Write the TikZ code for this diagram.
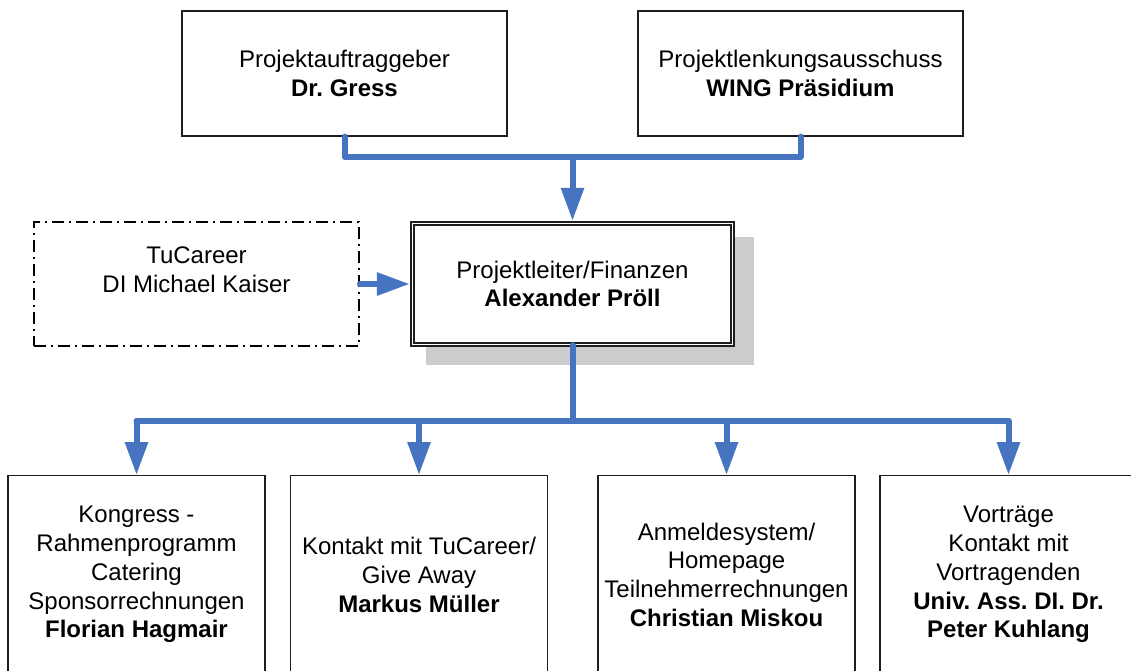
\documentclass[tikz,border=0pt]{standalone}
\usepackage{fontspec}
\setmainfont{Liberation Sans}
\usetikzlibrary{arrows.meta,backgrounds}
\definecolor{linkblue}{RGB}{70,116,193}
\definecolor{shadowgray}{RGB}{204,204,204}
\definecolor{edge}{RGB}{30,30,30}
\frenchspacing
\begin{document}
\begin{tikzpicture}[x=1pt,y=-1pt,
  box/.style={draw=edge, line width=1.3pt, fill=white, inner sep=0pt,
    align=center, font=\fontsize{24}{28.8}\selectfont\frenchspacing,
    minimum width=325pt, minimum height=125pt},
  leadbox/.style={box, double, double distance=1.8pt, line width=1.4pt,
    minimum width=320pt, minimum height=121pt},
  extbox/.style={box, draw=black, line width=1.8pt,
    dash pattern=on 12pt off 5pt on 2pt off 5pt, minimum height=124pt},
  teambox/.style={box, anchor=north, minimum width=257pt, minimum height=198pt},
  conn/.style={draw=linkblue, line width=6pt, line cap=round, line join=round},
  headed/.style={-{Triangle[width=22pt,length=33pt]}}]
\useasboundingbox (0,0) rectangle (1131,670);
\clip (0,0) rectangle (1131,670);

% steering level
\node[box] (sponsor) at (344.5,73.5) {Projektauftraggeber\\\textbf{Dr. Gress}};
\node[box] (board) at (800.5,73.5) {Projektlenkungsausschuss\\\textbf{WING Präsidium}};

% project lead with its drop shadow, and the external partner
\node[leadbox] (lead) at (572.5,284) {Projektleiter/Finanzen\\\textbf{Alexander Pröll}};
\begin{scope}[on background layer]
  \fill[shadowgray] ([shift={(14.5,14.5)}]lead.north west) rectangle ([shift={(20.5,19.5)}]lead.south east);
\end{scope}
\node[extbox] (career) at (196.5,284) {TuCareer\\DI Michael Kaiser\\\mbox{}};

% team members
\node[teambox] (b1) at (136.5,475) {Kongress -\\Rahmenprogramm\\Catering\\Sponsorrechnungen\\\textbf{Florian Hagmair}};
\node[teambox] (b2) at (419,475) {Kontakt mit TuCareer/\\Give Away\\\textbf{Markus Müller}};
\node[teambox] (b3) at (726.5,475) {Anmeldesystem/\\Homepage\\Teilnehmerrechnungen\\\textbf{Christian Miskou}};
\node[teambox] (b4) at (1008.5,475) {Vorträge\\Kontakt mit\\Vortragenden\\\textbf{Univ. Ass. DI. Dr.}\\\textbf{Peter Kuhlang}};

% connectors
\coordinate (topbus) at (572.5,157);
\coordinate (lowbus) at (572.5,421);
\draw[conn] (sponsor.south) -- (sponsor.south |- topbus) -- (board.south |- topbus) -- (board.south);
\draw[conn,headed,shorten >=2pt] (topbus) -- (lead.north);
\draw[conn,headed,shorten >=2pt] (career.east) -- (lead.west);
\draw[conn] (lead.south) -- (lowbus);
\draw[conn] (b1.north |- lowbus) -- (b4.north |- lowbus);
\foreach \b in {b1,b2,b3,b4}
  \draw[conn,headed] (\b.north |- lowbus) -- (\b.north);
\end{tikzpicture}
\end{document}
